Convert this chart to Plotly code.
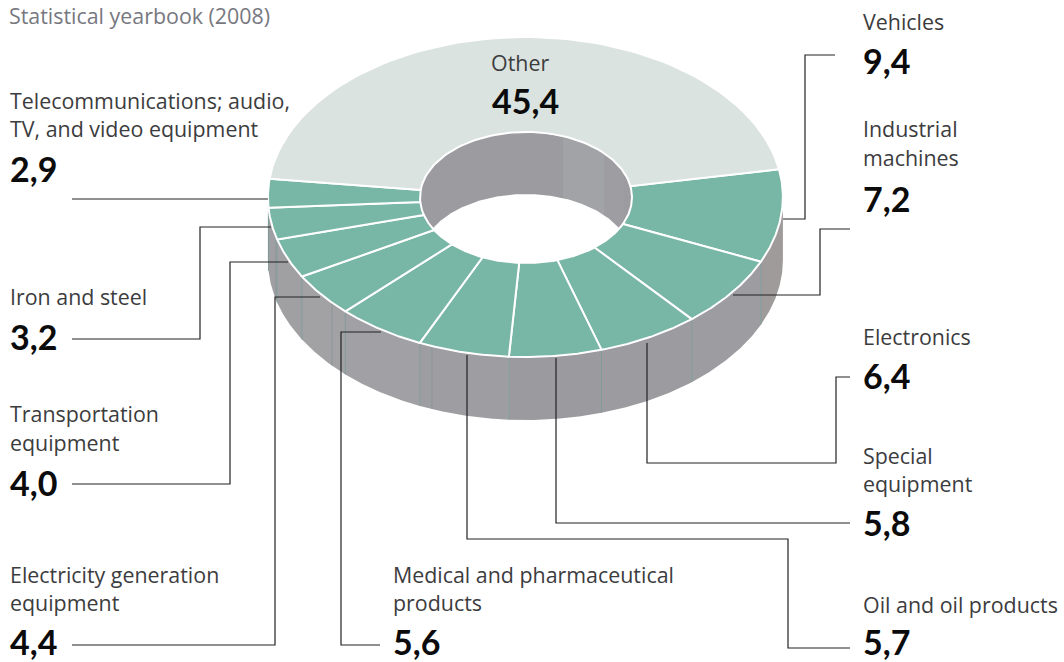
import numpy as np
import plotly.graph_objects as go

# ---- data ----
categories = ["Other", "Vehicles", "Industrial machines", "Electronics", "Special equipment",
              "Oil and oil products", "Medical and pharmaceutical products",
              "Electricity generation equipment", "Transportation equipment", "Iron and steel",
              "Telecommunications; audio, TV, and video equipment"]
values = [45.4, 9.4, 7.2, 6.4, 5.8, 5.7, 5.6, 4.4, 4.0, 3.2, 2.9]
label_lines = [["Other"], ["Vehicles"], ["Industrial", "machines"], ["Electronics"],
               ["Special", "equipment"], ["Oil and oil products"],
               ["Medical and pharmaceutical", "products"],
               ["Electricity generation", "equipment"], ["Transportation", "equipment"],
               ["Iron and steel"], ["Telecommunications; audio,", "TV, and video equipment"]]
subtitle = "Statistical yearbook (2008)"

# ---- style / layout ----
W, H = 1064, 662
CX, CY, RX, RY = 525.4, 197.0, 257.5, 160.0
HX, HY, HRX, HRY = 526.0, 197.5, 106.0, 65.5
DEPTH = 63.0
START = 10.0
TEAL, PALE = "#78b6a6", "#dbe3e0"
INK, NUM, SUB = "#3c3c3e", "#0b0b0c", "#77787f"
FONT = "Open Sans"
NUM_FONT = "Lato"
LABEL_SIZE, NUM_SIZE = 21.4, 34
side_shades = ["#9f9b9b", "#9d9ca0", "#9c9ba0", "#9b9a9e", "#9e9da1", "#a1a0a4", "#a2a2a5",
               "#a0a0a3", "#9f9ea2", "#9d9ca0"]
label_pos = [(520, [63], 100), (863, [22], 60), (863, [129, 158], 198), (863, [337], 375),
             (863, [456, 484], 522), (863, [605], 641), (393, [575, 603], 641),
             (10, [575, 603], 641), (10, [414, 443], 482), (10, [297], 336), (10, [101, 129], 168)]
leaders = [None,
           [(835, 55), (805, 55), (805, 219), (783, 219)],
           [(850, 229), (820, 229), (820, 295), (733, 295)],
           [(850, 377), (836, 377), (836, 463), (647, 463), (647, 343)],
           [(850, 523), (556, 523), (556, 358)],
           [(850, 648), (788, 648), (788, 539), (467, 539), (467, 355)],
           [(380, 645), (341, 645), (341, 332), (381, 332)],
           [(72, 645), (275, 645), (275, 297), (320, 297)],
           [(72, 484), (230, 484), (230, 262), (288, 262)],
           [(72, 339), (200, 339), (200, 227), (271, 227)],
           [(72, 199), (268, 199)]]


def arc(cx, cy, rx, ry, a0, a1, n=80):
    t = np.radians(np.linspace(a0, a1, n))
    return cx + rx * np.cos(t), cy - ry * np.sin(t)


def poly(x, y, fill, line=None, width=0):
    return go.Scatter(x=list(x), y=list(y), mode="lines", fill="toself", fillcolor=fill,
                      line=dict(color=line or fill, width=width), hoverinfo="skip", showlegend=False)


def seg(xs, ys, color, width=1.0):
    return go.Scatter(x=list(xs), y=list(ys), mode="lines", line=dict(color=color, width=width),
                      hoverinfo="skip", showlegend=False)


fig = go.Figure()

# sector angles, clockwise from the right edge of "Other"
order = list(range(1, len(values))) + [0]
total = sum(values)
angles = {}
a = START
for i in order:
    sweep = values[i] / total * 360
    angles[i] = (a, a - sweep)
    a -= sweep

# outer wall
for k, i in enumerate(order[:-1]):
    a0, a1 = angles[i]
    a0c, a1c = min(a0, 0), max(a1, -180)
    x, y = arc(CX, CY, RX, RY, a0c, a1c)
    fig.add_trace(poly(np.r_[x, x[::-1]], np.r_[y, y[::-1] + DEPTH], side_shades[k]))
for i in order[:-2]:
    a1 = angles[i][1]
    x, y = arc(CX, CY, RX, RY, a1, a1, 1)
    fig.add_trace(seg([x[0], x[0]], [y[0], y[0] + DEPTH], "#7f9c99", 1))
for xs in (276, 332, 432):
    t = np.sqrt(1 - ((xs - CX) / RX) ** 2)
    y0 = CY + RY * t
    fig.add_trace(seg([xs, xs], [y0, y0 + DEPTH], "#8b9695", 1))

# hole and inner wall
x, y = arc(HX, HY, HRX, HRY, 0, 360, 180)
fig.add_trace(poly(x, y, "#9c9ba0"))
for lo, hi, shade in [(69.6, 42.6, "#a2a3a7"), (42.6, 22, "#9e9ea2")]:
    x, y = arc(HX, HY, HRX, HRY, lo, hi, 30)
    fig.add_trace(poly(np.r_[x, x[::-1]], np.r_[y, y[::-1] + DEPTH - 1], shade))
half = np.degrees(np.arcsin((DEPTH - 1) / 2 / HRY))
xu, yu = arc(HX, HY, HRX, HRY, 180 - half, half, 120)
xl, yl = arc(HX, HY, HRX, HRY, -half, -180 + half, 120)
fig.add_trace(poly(np.r_[xu, xl], np.r_[yu + DEPTH - 1, yl], "white"))

# top face
for i in order:
    a0, a1 = angles[i]
    xo, yo = arc(CX, CY, RX, RY, a0, a1)
    xi, yi = arc(HX, HY, HRX, HRY, a1, a0)
    fig.add_trace(poly(np.r_[xo, xi, xo[0]], np.r_[yo, yi, yo[0]],
                       PALE if i == 0 else TEAL, "white", 2))

# leaders
for pts in leaders:
    if pts:
        fig.add_trace(seg([p[0] for p in pts], [p[1] for p in pts], "#222224", 1.2))

# text
ann = [dict(x=9, y=15, xshift=-2, text=subtitle, xanchor="left", yanchor="middle", showarrow=False,
            font=dict(family=FONT, size=LABEL_SIZE, color=SUB))]
for i, (lines, (px, ys, ny)) in enumerate(zip(label_lines, label_pos)):
    for line, ly in zip(lines, ys):
        ann.append(dict(x=px, y=ly, xshift=-2 if i else 0, yshift=1, text=line, showarrow=False,
                        xanchor="left" if i else "center", yanchor="middle",
                        font=dict(family=FONT, size=LABEL_SIZE, color=INK)))
    ann.append(dict(x=px if i else 525, y=ny, xshift=-2 if i else 0, text=f"{values[i]:.1f}".replace(".", ","),
                    showarrow=False, xanchor="left" if i else "center", yanchor="middle",
                    font=dict(family=NUM_FONT, size=NUM_SIZE, color=NUM, weight=700)))

fig.update_layout(width=W, height=H, margin=dict(l=0, r=0, t=0, b=0), autosize=False,
                  paper_bgcolor="white", plot_bgcolor="white", showlegend=False, annotations=ann,
                  xaxis=dict(range=[0, W], visible=False, fixedrange=True),
                  yaxis=dict(range=[H, 0], visible=False, fixedrange=True))
fig.write_html("out.html", config={"displayModeBar": False},
               post_script="document.body.style.margin='0';")
